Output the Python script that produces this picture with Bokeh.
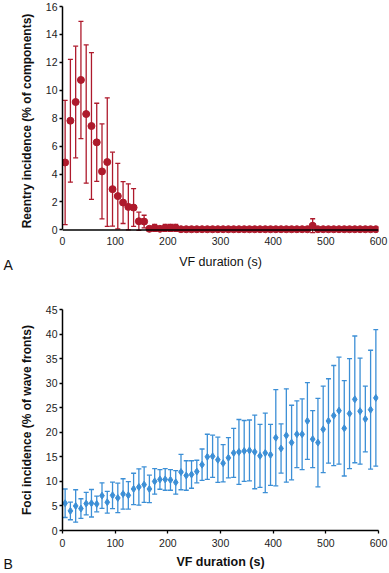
from bokeh.plotting import figure
from bokeh.models import ColumnDataSource, Whisker, TeeHead, FixedTicker, Span, Title
from bokeh.layouts import column
from bokeh.embed import file_html
from bokeh.resources import INLINE

# ---- data ----
vf_duration = [5, 15, 25, 35, 45, 55, 65, 75, 85, 95,
               105, 115, 125, 135, 145, 155, 165, 175, 185, 195,
               205, 215, 225, 235, 245, 255, 265, 275, 285, 295,
               305, 315, 325, 335, 345, 355, 365, 375, 385, 395,
               405, 415, 425, 435, 445, 455, 465, 475, 485, 495,
               505, 515, 525, 535, 545, 555, 565, 575, 585, 595]

reentry_mean = [4.83, 7.82, 9.16, 10.74, 8.30, 7.44, 6.27, 4.19, 4.86, 2.92,
                2.42, 1.96, 1.65, 1.60, 0.62, 0.60, 0.08, 0.15, 0.08, 0.15,
                0.15, 0.15, 0.05, 0.05, 0.05, 0.05, 0.05, 0.05, 0.05, 0.05,
                0.05, 0.05, 0.05, 0.05, 0.05, 0.05, 0.05, 0.05, 0.05, 0.05,
                0.05, 0.05, 0.05, 0.05, 0.05, 0.05, 0.05, 0.30, 0.05, 0.05,
                0.05, 0.05, 0.05, 0.05, 0.05, 0.05, 0.05, 0.05, 0.05, 0.05]
reentry_err = [4.45, 4.40, 4.00, 4.20, 4.95, 5.25, 2.80, 3.40, 4.60, 2.65,
               2.35, 1.50, 1.65, 1.35, 0.65, 0.45, 0.10, 0.25, 0.10, 0.25,
               0.25, 0.25, 0.05, 0.05, 0.05, 0.05, 0.05, 0.05, 0.05, 0.05,
               0.05, 0.05, 0.05, 0.05, 0.05, 0.05, 0.05, 0.05, 0.05, 0.05,
               0.05, 0.05, 0.05, 0.05, 0.05, 0.05, 0.05, 0.50, 0.05, 0.05,
               0.05, 0.05, 0.05, 0.05, 0.05, 0.05, 0.05, 0.05, 0.05, 0.05]

foci_mean = [5.55, 3.99, 5.00, 4.47, 5.48, 5.55, 5.40, 7.10, 5.75, 7.17,
             6.63, 7.44, 7.17, 8.46, 8.86, 9.34, 8.46, 10.0, 10.4, 10.4,
             10.3, 9.80, 11.9, 11.2, 11.4, 12.0, 13.4, 15.0, 15.1, 14.4,
             13.7, 14.8, 15.8, 16.0, 16.2, 16.3, 16.0, 15.2, 15.8, 15.4,
             18.9, 16.7, 19.35, 17.9, 19.6, 19.6, 22.3, 18.6, 17.9, 20.6,
             22.3, 23.4, 24.4, 20.8, 23.8, 26.7, 24.3, 22.7, 24.6, 27.0]
foci_err = [2.9, 1.8, 3.3, 2.0, 2.3, 2.8, 1.6, 2.6, 2.2, 2.7,
            3.0, 3.1, 2.8, 3.2, 3.7, 3.6, 2.8, 2.6, 2.0, 2.2,
            2.1, 2.4, 3.6, 3.0, 2.8, 2.3, 3.2, 4.6, 4.3, 4.6,
            3.8, 4.1, 5.0, 6.6, 6.2, 6.2, 7.5, 6.4, 8.1, 6.2,
            9.8, 5.0, 9.5, 7.6, 6.8, 7.2, 7.8, 5.8, 9.0, 8.8,
            8.6, 10.2, 10.9, 9.7, 11.2, 12.9, 10.8, 6.7, 12.1, 13.9]

x_ticks = [0, 100, 200, 300, 400, 500, 600]
reentry_ticks = [0, 2, 4, 6, 8, 10, 12, 14, 16]
foci_ticks = [0, 5, 10, 15, 20, 25, 30, 35, 40, 45]

RED = "#AE1A2C"
BLUE = "#3C8FD6"
FONT = "Liberation Sans"


def style_axis(ax, bold_label):
    ax.axis_line_color = "black"
    ax.axis_line_width = 1.5
    ax.major_tick_line_color = "black"
    ax.major_tick_line_width = 1.3
    ax.major_tick_in = 0
    ax.major_tick_out = 3
    ax.minor_tick_line_color = None
    ax.major_label_text_font = FONT
    ax.major_label_text_font_size = "10.5px"
    ax.major_label_text_color = "#222222"
    ax.axis_label_text_font = FONT
    ax.axis_label_text_font_size = "12px"
    ax.axis_label_text_color = "#111111"
    ax.axis_label_text_font_style = "bold" if bold_label else "normal"


def panel_letter(text, standoff):
    return Title(text=text, align="left", offset=-59, standoff=standoff,
                 vertical_align="top",
                 text_font=FONT, text_font_size="14px",
                 text_font_style="normal", text_color="#111111")


# ---- panel A ----
srcA = ColumnDataSource(dict(
    x=vf_duration, y=reentry_mean,
    lo=[m - e for m, e in zip(reentry_mean, reentry_err)],
    hi=[m + e for m, e in zip(reentry_mean, reentry_err)]))

pA = figure(width=389, height=290, x_range=(0, 600), y_range=(-0.4, 16),
            output_backend="svg", toolbar_location=None,
            min_border_left=62, min_border_right=11, min_border_top=6,
            min_border_bottom=55)
pA.grid.visible = False
pA.outline_line_color = None
pA.background_fill_color = "white"

xa = pA.xaxis[0]
xa.ticker = FixedTicker(ticks=x_ticks)
xa.axis_label = "VF duration (s)"
style_axis(xa, False)
xa.axis_line_color = None
xa.major_tick_out = 0
xa.major_label_standoff = 1
xa.axis_label_standoff = 7
xa.axis_label_text_font_size = "12.5px"

ya = pA.yaxis[0]
ya.ticker = FixedTicker(ticks=reentry_ticks)
ya.axis_label = "Reentry incidence (% of components)"
ya.bounds = (0, 16)
style_axis(ya, True)
ya.major_label_standoff = 2
ya.axis_label_standoff = 9

pA.add_layout(Span(location=0, dimension="width", line_color="black",
                   line_width=1.5))

wA = Whisker(source=srcA, base="x", lower="lo", upper="hi", dimension="height",
             line_color=RED, line_width=1.3,
             lower_head=TeeHead(size=5, line_color=RED, line_width=1.3),
             upper_head=TeeHead(size=5, line_color=RED, line_width=1.3))
pA.add_layout(wA)
pA.scatter("x", "y", source=srcA, marker="circle", size=7,
           fill_color=RED, line_color=RED)
pA.add_layout(panel_letter("A", -30), "below")

# ---- panel B ----
srcB = ColumnDataSource(dict(
    x=vf_duration, y=foci_mean,
    lo=[m - e for m, e in zip(foci_mean, foci_err)],
    hi=[m + e for m, e in zip(foci_mean, foci_err)]))

pB = figure(width=389, height=283, x_range=(0, 600), y_range=(0, 45),
            output_backend="svg", toolbar_location=None,
            min_border_left=62, min_border_right=11, min_border_top=19,
            min_border_bottom=43)
pB.grid.visible = False
pB.outline_line_color = None
pB.background_fill_color = "white"

xb = pB.xaxis[0]
xb.ticker = FixedTicker(ticks=x_ticks)
xb.axis_label = "VF duration (s)"
style_axis(xb, True)
xb.major_label_standoff = 5
xb.axis_label_standoff = 5
xb.axis_label_text_font_size = "12.5px"

yb = pB.yaxis[0]
yb.ticker = FixedTicker(ticks=foci_ticks)
yb.axis_label = "Foci incidence (% of wave fronts)"
style_axis(yb, True)
yb.major_label_standoff = 2
yb.axis_label_standoff = 9

wB = Whisker(source=srcB, base="x", lower="lo", upper="hi", dimension="height",
             line_color=BLUE, line_width=1.3,
             lower_head=TeeHead(size=5, line_color=BLUE, line_width=1.3),
             upper_head=TeeHead(size=5, line_color=BLUE, line_width=1.3))
pB.add_layout(wB)
pB.scatter("x", "y", source=srcB, marker="diamond", size=7,
           fill_color=BLUE, line_color=BLUE)
pB.add_layout(panel_letter("B", -32), "below")

layout = column(pA, pB, spacing=0)
open("out.html", "w").write(file_html(layout, INLINE))
